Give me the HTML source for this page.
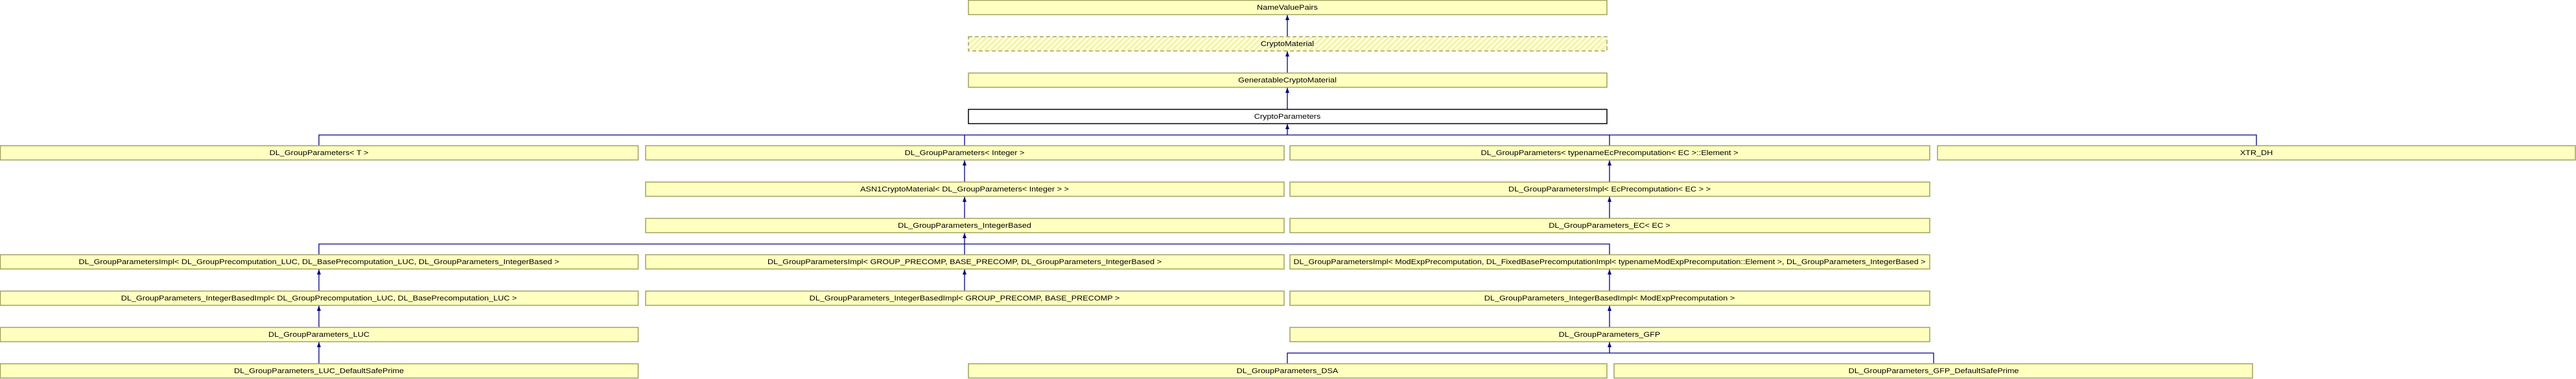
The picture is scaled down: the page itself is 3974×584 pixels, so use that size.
<!DOCTYPE html>
<html><head><meta charset="utf-8"><style>
html,body{margin:0;padding:0;background:#fff;}
svg{display:block;}
text{font-family:"Liberation Sans",Arial,sans-serif;font-size:11px;fill:#000;text-anchor:middle;}
.b{fill:#ffffc0;stroke:#a0a060;stroke-width:1.5;}
.l{stroke:#000080;stroke-width:1.3;fill:none;}
.a{fill:#000080;}
</style></head><body>
<svg width="3974" height="584" viewBox="0 0 3974 584" xmlns="http://www.w3.org/2000/svg">
<defs>
<pattern id="h" width="6" height="6" patternUnits="userSpaceOnUse" patternTransform="rotate(45)">
<rect width="6" height="6" fill="#ffffd8"/><rect width="2.5" height="6" fill="#f2f2a8"/>
</pattern>
</defs>
<g class="l">
<line x1="1986" y1="23" x2="1986" y2="56"/>
<line x1="1986" y1="79" x2="1986" y2="112"/>
<line x1="1986" y1="135" x2="1986" y2="168"/>
<line x1="1986" y1="191" x2="1986" y2="208"/>
<polyline points="492,224 492,208 3481,208 3481,224"/>
<line x1="1488" y1="208" x2="1488" y2="224"/>
<line x1="2483" y1="208" x2="2483" y2="224"/>
<line x1="1488" y1="247" x2="1488" y2="280"/>
<line x1="2483" y1="247" x2="2483" y2="280"/>
<line x1="1488" y1="303" x2="1488" y2="336"/>
<line x1="2483" y1="303" x2="2483" y2="336"/>
<line x1="1488" y1="359" x2="1488" y2="392"/>
<polyline points="492,392 492,376 2483,376 2483,392"/>
<line x1="492" y1="415" x2="492" y2="448"/>
<line x1="1488" y1="415" x2="1488" y2="448"/>
<line x1="2483" y1="415" x2="2483" y2="448"/>
<line x1="492" y1="471" x2="492" y2="504"/>
<line x1="2483" y1="471" x2="2483" y2="504"/>
<line x1="492" y1="527" x2="492" y2="560"/>
<line x1="2483" y1="527" x2="2483" y2="544"/>
<polyline points="1986,560 1986,544 2983,544 2983,560"/>
</g>
<g class="a">
<polygon points="1986,23 1983,31 1989,31"/>
<polygon points="1986,79 1983,87 1989,87"/>
<polygon points="1986,135 1983,143 1989,143"/>
<polygon points="1986,191 1983,199 1989,199"/>
<polygon points="1488,247 1485,255 1491,255"/>
<polygon points="2483,247 2480,255 2486,255"/>
<polygon points="1488,303 1485,311 1491,311"/>
<polygon points="2483,303 2480,311 2486,311"/>
<polygon points="1488,359 1485,367 1491,367"/>
<polygon points="492,415 489,423 495,423"/>
<polygon points="1488,415 1485,423 1491,423"/>
<polygon points="2483,415 2480,423 2486,423"/>
<polygon points="492,471 489,479 495,479"/>
<polygon points="2483,471 2480,479 2486,479"/>
<polygon points="492,527 489,535 495,535"/>
<polygon points="2483,527 2480,535 2486,535"/>
</g>
<rect class="b" x="1494" y="0.5" width="985" height="22"/>
<rect x="1494" y="56.5" width="985" height="22" fill="url(#h)" stroke="#a0a060" stroke-width="1.5" stroke-dasharray="6,4"/>
<rect class="b" x="1494" y="112.5" width="985" height="22"/>
<rect x="1494" y="168.5" width="985" height="22" fill="#fff" stroke="#000" stroke-width="1.5"/>

<rect class="b" x="0.5" y="224.5" width="984" height="22"/>
<rect class="b" x="996" y="224.5" width="985" height="22"/>
<rect class="b" x="1990" y="224.5" width="987" height="22"/>
<rect class="b" x="2989" y="224.5" width="984" height="22"/>

<rect class="b" x="996" y="280.5" width="985" height="22"/>
<rect class="b" x="1990" y="280.5" width="987" height="22"/>
<rect class="b" x="996" y="336.5" width="985" height="22"/>
<rect class="b" x="1990" y="336.5" width="987" height="22"/>

<rect class="b" x="0.5" y="392.5" width="984" height="22"/>
<rect class="b" x="996" y="392.5" width="985" height="22"/>
<rect class="b" x="1990" y="392.5" width="987" height="22"/>
<rect class="b" x="0.5" y="448.5" width="984" height="22"/>
<rect class="b" x="996" y="448.5" width="985" height="22"/>
<rect class="b" x="1990" y="448.5" width="987" height="22"/>
<rect class="b" x="0.5" y="504.5" width="984" height="22"/>
<rect class="b" x="1990" y="504.5" width="987" height="22"/>
<rect class="b" x="0.5" y="560.5" width="984" height="22"/>
<rect class="b" x="1494" y="560.5" width="985" height="22"/>
<rect class="b" x="2490" y="560.5" width="985" height="22"/>

<g>
<text transform="translate(1986,15) scale(1.15,1)">NameValuePairs</text>
<text transform="translate(1986,71) scale(1.15,1)">CryptoMaterial</text>
<text transform="translate(1986,127) scale(1.15,1)">GeneratableCryptoMaterial</text>
<text transform="translate(1986,183) scale(1.15,1)">CryptoParameters</text>
<text transform="translate(492,239) scale(1.15,1)">DL_GroupParameters&lt; T &gt;</text>
<text transform="translate(1488,239) scale(1.15,1)">DL_GroupParameters&lt; Integer &gt;</text>
<text transform="translate(2483,239) scale(1.15,1)">DL_GroupParameters&lt; typenameEcPrecomputation&lt; EC &gt;::Element &gt;</text>
<text transform="translate(3481,239) scale(1.15,1)">XTR_DH</text>
<text transform="translate(1488,295) scale(1.15,1)">ASN1CryptoMaterial&lt; DL_GroupParameters&lt; Integer &gt; &gt;</text>
<text transform="translate(2483,295) scale(1.15,1)">DL_GroupParametersImpl&lt; EcPrecomputation&lt; EC &gt; &gt;</text>
<text transform="translate(1488,351) scale(1.15,1)">DL_GroupParameters_IntegerBased</text>
<text transform="translate(2483,351) scale(1.15,1)">DL_GroupParameters_EC&lt; EC &gt;</text>
<text transform="translate(492,407) scale(1.15,1)">DL_GroupParametersImpl&lt; DL_GroupPrecomputation_LUC, DL_BasePrecomputation_LUC, DL_GroupParameters_IntegerBased &gt;</text>
<text transform="translate(1488,407) scale(1.15,1)">DL_GroupParametersImpl&lt; GROUP_PRECOMP, BASE_PRECOMP, DL_GroupParameters_IntegerBased &gt;</text>
<text x="2483" y="407" textLength="975" lengthAdjust="spacingAndGlyphs">DL_GroupParametersImpl&lt; ModExpPrecomputation, DL_FixedBasePrecomputationImpl&lt; typenameModExpPrecomputation::Element &gt;, DL_GroupParameters_IntegerBased &gt;</text>
<text transform="translate(492,463) scale(1.15,1)">DL_GroupParameters_IntegerBasedImpl&lt; DL_GroupPrecomputation_LUC, DL_BasePrecomputation_LUC &gt;</text>
<text transform="translate(1488,463) scale(1.15,1)">DL_GroupParameters_IntegerBasedImpl&lt; GROUP_PRECOMP, BASE_PRECOMP &gt;</text>
<text transform="translate(2483,463) scale(1.15,1)">DL_GroupParameters_IntegerBasedImpl&lt; ModExpPrecomputation &gt;</text>
<text transform="translate(492,519) scale(1.15,1)">DL_GroupParameters_LUC</text>
<text transform="translate(2483,519) scale(1.15,1)">DL_GroupParameters_GFP</text>
<text transform="translate(492,575) scale(1.15,1)">DL_GroupParameters_LUC_DefaultSafePrime</text>
<text transform="translate(1986,575) scale(1.15,1)">DL_GroupParameters_DSA</text>
<text transform="translate(2983,575) scale(1.15,1)">DL_GroupParameters_GFP_DefaultSafePrime</text>
</g>
</svg>
</body></html>
